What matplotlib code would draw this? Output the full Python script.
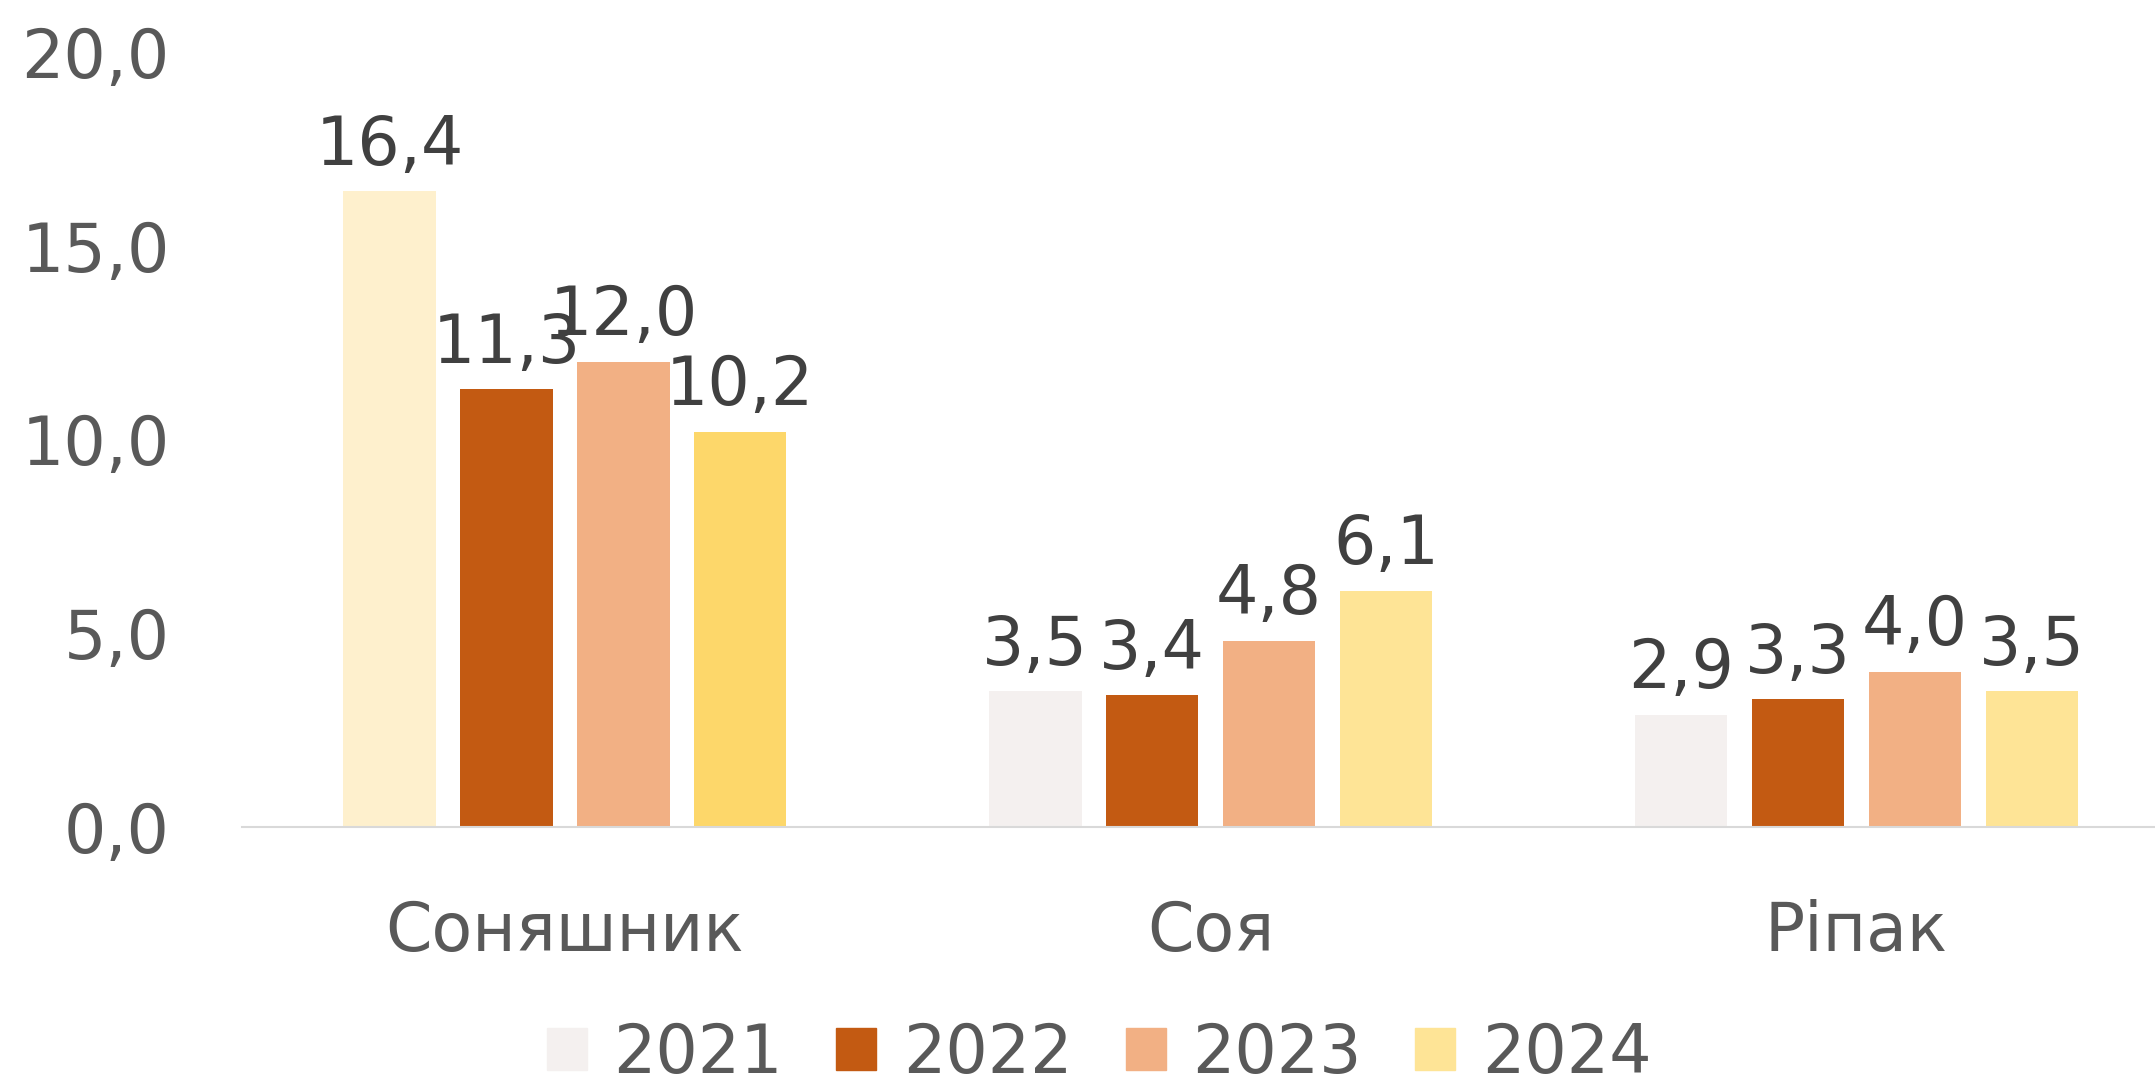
import matplotlib.pyplot as plt
import numpy as np

crops = ['Соняшник', 'Соя', 'Ріпак']
years = ['2021', '2022', '2023', '2024']
v2021 = [16.4, 3.5, 2.9]
v2022 = [11.3, 3.4, 3.3]
v2023 = [12.0, 4.8, 4.0]
v2024 = [10.2, 6.1, 3.5]
yticks = [0, 5, 10, 15, 20]

series = [v2021, v2022, v2023, v2024]
colors = ['#F4F0EF', '#C35A12', '#F2B084', '#FEE496']
# the sunflower group uses slightly different tints in the source
first_colors = ['#FEF0CD', '#C35A12', '#F2B084', '#FDD76A']

plt.rcParams['font.family'] = ['DejaVu Sans']

fig = plt.figure(figsize=(21.55, 10.83), dpi=100)
ax = fig.add_axes([0.1123, 0.2364, 0.899, 0.7156])

x = np.arange(len(crops))
width = 0.143
step = 0.181
fs = 48
for i, vals in enumerate(series):
    cols = [first_colors[i]] + [colors[i]] * (len(crops) - 1)
    bars = ax.bar(x + (i - 1.5) * step, vals, width, color=cols, label=years[i])
    for b, v in zip(bars, vals):
        ax.annotate(('%.1f' % v).replace('.', ','),
                    (b.get_x() + b.get_width() / 2, v),
                    xytext=(0, 9), textcoords='offset points',
                    ha='center', va='bottom', fontsize=fs, color='#404040')

ax.set_xlim(-0.5, 2.5)
ax.set_ylim(0, 20)
ax.set_yticks(yticks)
ax.set_yticklabels([('%.1f' % t).replace('.', ',') for t in yticks])
ax.set_xticks(x)
ax.set_xticklabels(crops)
ax.tick_params(axis='both', length=0, labelsize=fs, labelcolor='#595959')
ax.tick_params(axis='y', pad=52)
ax.tick_params(axis='x', pad=52)
for s in ['top', 'right', 'left']:
    ax.spines[s].set_visible(False)
ax.spines['bottom'].set_color('#D9D9D9')
ax.spines['bottom'].set_linewidth(1.5)

handles = [plt.Rectangle((0, 0), 1, 1, color=c) for c in colors]
fig.legend(handles, years, loc='center', bbox_to_anchor=(0.51, 0.027), ncol=4,
           frameon=False, fontsize=fs, labelcolor='#595959',
           handlelength=0.6, handleheight=0.6, handletextpad=0.4, columnspacing=0.8)

fig.savefig('out.png', dpi=100, facecolor='white')
